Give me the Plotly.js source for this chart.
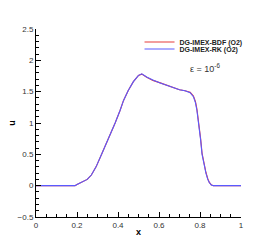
<!DOCTYPE html>
<html><head><meta charset="utf-8">
<script src="https://cdn.plot.ly/plotly-3.0.1.min.js"></script>
<style>html,body{margin:0;padding:0;background:#fff;}#plot{width:274px;height:244px;}</style>
</head><body><div id="plot"></div>
<script>
const xs = [0, 0.05, 0.1, 0.15, 0.19, 0.2, 0.22, 0.25, 0.27, 0.293, 0.32, 0.35, 0.386, 0.41, 0.427, 0.45, 0.475, 0.5, 0.516, 0.54, 0.57, 0.606, 0.64, 0.67, 0.7, 0.727, 0.752, 0.768, 0.778, 0.785, 0.795, 0.803, 0.81, 0.82, 0.829, 0.838, 0.845, 0.855, 0.865, 0.9, 0.95, 1.0];
const uBDF = [0, 0, 0, 0, 0, 0.02, 0.05, 0.1, 0.17, 0.3, 0.5, 0.72, 1.0, 1.2, 1.36, 1.52, 1.66, 1.76, 1.78, 1.73, 1.68, 1.64, 1.6, 1.56, 1.53, 1.515, 1.49, 1.43, 1.34, 1.22, 1.0, 0.75, 0.52, 0.34, 0.21, 0.11, 0.055, 0.015, 0, 0, 0, 0];
const uRK  = [0, 0, 0, 0, 0, 0.02, 0.05, 0.1, 0.17, 0.3, 0.5, 0.72, 1.0, 1.2, 1.36, 1.52, 1.66, 1.76, 1.785, 1.735, 1.685, 1.64, 1.6, 1.56, 1.53, 1.515, 1.485, 1.42, 1.32, 1.2, 0.98, 0.73, 0.5, 0.32, 0.2, 0.1, 0.05, 0.012, 0, 0, 0, 0];
const names = ['DG-IMEX-BDF (O2)', 'DG-IMEX-RK (O2)'];
const colors = ['rgb(230,60,60)', 'rgb(90,90,255)'];

const traces = [
  {x: xs, y: uBDF, name: names[0], mode: 'lines', line: {color: colors[0], width: 1.1}, legend: 'legend'},
  {x: xs, y: uRK, name: names[1], mode: 'lines', line: {color: colors[1], width: 1.1}, legend: 'legend2'}
];
const fam = 'Liberation Sans, Arial, sans-serif';
const tickfont = {family: fam, size: 8, color: '#333'};
const legFont = {family: fam, size: 7, color: '#222', weight: 'bold'};
const legCommon = {xanchor: 'left', yanchor: 'middle', bgcolor: 'rgba(0,0,0,0)', font: legFont, itemwidth: 30, borderwidth: 0};
const layout = {
  width: 274, height: 244,
  margin: {l: 36, r: 33, t: 29, b: 27},
  paper_bgcolor: '#fff', plot_bgcolor: '#fff',
  showlegend: true,
  legend: Object.assign({x: 0.505, y: 0.931}, legCommon),
  legend2: Object.assign({x: 0.505, y: 0.894}, legCommon),
  xaxis: {range: [0, 1], dtick: 0.2, tick0: 0, ticks: 'inside', ticklen: 5, tickwidth: 1, tickcolor: '#000',
    showline: true, linecolor: '#000', linewidth: 1, showgrid: false, zeroline: false, tickfont: tickfont,
    minor: {dtick: 0.05, ticks: 'inside', ticklen: 3, tickcolor: '#000', showgrid: false},
    title: {text: '<b>x</b>', font: {family: fam, size: 9, color: '#000'}, standoff: 0}},
  yaxis: {range: [-0.5, 2.5], dtick: 0.5, tick0: 0, ticks: 'inside', ticklen: 5, tickwidth: 1, tickcolor: '#000',
    showline: true, linecolor: '#000', linewidth: 1, showgrid: false, zeroline: false, tickfont: tickfont,
    minor: {dtick: 0.1, ticks: 'inside', ticklen: 3, tickcolor: '#000', showgrid: false},
    title: {text: '<b>u</b>', font: {family: fam, size: 9, color: '#000'}, standoff: 0}},
  annotations: [{x: 0.825, y: 1.87, xref: 'x', yref: 'y', showarrow: false,
    text: 'ε = 10<sup>-6</sup>', font: {family: fam, size: 9, color: '#333'}}]
};
Plotly.newPlot('plot', traces, layout, {displayModeBar: false, staticPlot: true});
</script></body></html>
